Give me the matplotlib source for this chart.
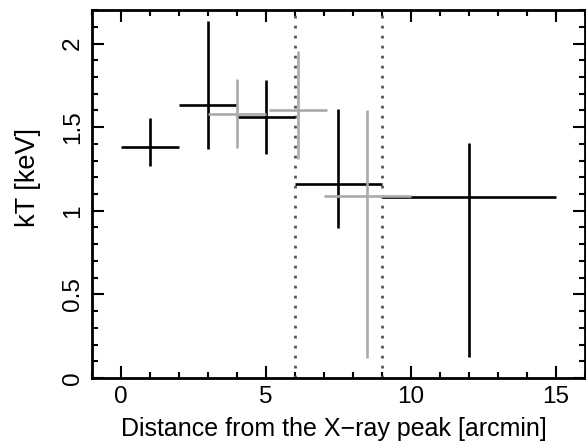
import numpy as np
import matplotlib
matplotlib.use("Agg")
import matplotlib.pyplot as plt
from matplotlib.ticker import MultipleLocator

plt.rcParams['font.family'] = ['Liberation Sans', 'DejaVu Sans']

# black points
bx = [1, 3, 5, 7.5, 12]
bx_lo = [0, 2, 4, 6, 9]
bx_hi = [2, 4, 6, 9, 15]
by = [1.38, 1.635, 1.558, 1.158, 1.085]
by_lo = [1.27, 1.367, 1.339, 0.898, 0.127]
by_hi = [1.556, 2.136, 1.785, 1.606, 1.403]

# grey points
gx = [4, 6.1, 8.5]
gx_lo = [3, 5.1, 7]
gx_hi = [5, 7.1, 10]
gy = [1.578, 1.602, 1.088]
gy_lo = [1.376, 1.307, 0.117]
gy_hi = [1.789, 1.956, 1.60]

vlines = [6, 9]

fig = plt.figure(figsize=(5.86, 4.41), dpi=100)
ax = fig.add_axes([0.157, 0.143, 0.841, 0.834])

def errs(x, xlo, xhi, y, ylo, yhi):
    x = np.array(x); y = np.array(y)
    xe = [x - np.array(xlo), np.array(xhi) - x]
    ye = [y - np.array(ylo), np.array(yhi) - y]
    return xe, ye

xe, ye = errs(bx, bx_lo, bx_hi, by, by_lo, by_hi)
ax.errorbar(bx, by, xerr=xe, yerr=ye, fmt='none', ecolor='black', elinewidth=1.9, capsize=0, zorder=3)
xe, ye = errs(gx, gx_lo, gx_hi, gy, gy_lo, gy_hi)
ax.errorbar(gx, gy, xerr=xe, yerr=ye, fmt='none', ecolor='#aaaaaa', elinewidth=1.9, capsize=0, zorder=4)

for v in vlines:
    ax.axvline(v, color='#555555', linestyle=(0, (1, 2.6)), linewidth=2, zorder=2)

ax.set_xlim(-1, 16)
ax.set_ylim(0, 2.2)
ax.xaxis.set_major_locator(MultipleLocator(5))
ax.xaxis.set_minor_locator(MultipleLocator(1))
ax.yaxis.set_major_locator(MultipleLocator(0.5))
ax.yaxis.set_minor_locator(MultipleLocator(0.1))
ax.set_yticks([0, 0.5, 1, 1.5, 2])
ax.set_yticklabels(['0', '0.5', '1', '1.5', '2'], rotation=90, va='center')

ax.tick_params(which='both', direction='in', top=True, right=True, width=1.5, labelsize=17.5, colors='black')
ax.tick_params(which='major', length=8.5, pad=6)
ax.tick_params(which='minor', length=4.5)
for s in ax.spines.values():
    s.set_linewidth(2)

ax.set_xlabel('Distance from the X\u2212ray peak [arcmin]', fontsize=18)
ax.xaxis.set_label_coords(0.49, -0.105)
ax.set_ylabel('kT [keV]', fontsize=19.5)
ax.yaxis.set_label_coords(-0.103, 0.546)

fig.savefig('out.png', dpi=100)
